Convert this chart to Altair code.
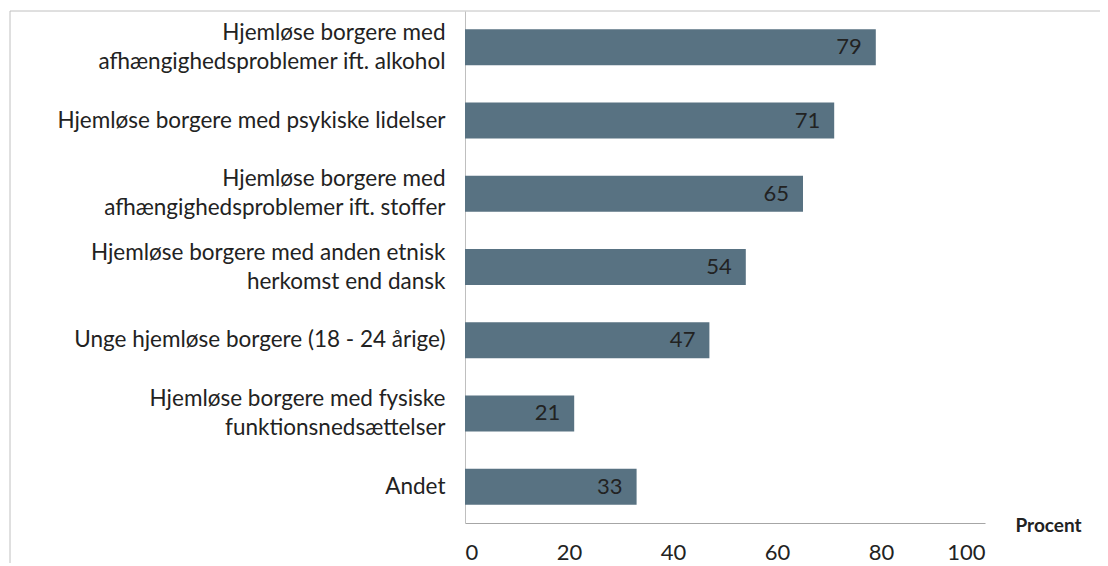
import altair as alt
import pandas as pd

categories = [
    ["Hjemløse borgere med", "afhængighedsproblemer ift. alkohol"],
    ["Hjemløse borgere med psykiske lidelser"],
    ["Hjemløse borgere med", "afhængighedsproblemer ift. stoffer"],
    ["Hjemløse borgere med anden etnisk", "herkomst end dansk"],
    ["Unge hjemløse borgere (18 - 24 årige)"],
    ["Hjemløse borgere med fysiske", "funktionsnedsættelser"],
    ["Andet"],
]
values = [79, 71, 65, 54, 47, 21, 33]
x_ticks = [0, 20, 40, 60, 80, 100]

keys = ["\n".join(c) for c in categories]
df = pd.DataFrame({"cat": keys, "value": values})

FONT = "Lato"
y_scale = alt.Scale(domain=keys, paddingInner=0.51, paddingOuter=0.25)
x_scale = alt.Scale(domain=[0, 100], nice=False)

base = alt.Chart(df)

bars = base.mark_bar(color="#587282").encode(
    x=alt.X("value:Q", scale=x_scale,
            axis=alt.Axis(values=x_ticks, grid=False, ticks=False, domainColor="#a6a6a6",
                          labelFont=FONT, labelFontSize=22, labelColor="#222222",
                          labelPadding=29, labelBaseline="middle",
                          title="Procent", titleFont=FONT,
                          titleFontSize=19, titleFontWeight="bold", titleColor="#222222",
                          titleX=550, titleY=2, titleAlign="left", titleBaseline="middle",
                          titleAnchor=None)),
    y=alt.Y("cat:N", scale=y_scale, sort=keys,
            axis=alt.Axis(title=None, ticks=False, domainColor="#bfbfbf",
                          labelFont=FONT, labelFontSize=22.5, labelColor="#222222",
                          labelPadding=20, labelExpr="split(datum.value, '\\n')",
                          labelLineHeight=29, labelLimit=500,
                          labelOffset={"condition": {"test": "indexof(datum.value, '\\n') >= 0",
                                                     "value": -14.5},
                                       "value": 0})),
)

text = base.mark_text(align="right", baseline="middle", dx=-14, font=FONT,
                      fontSize=22, color="#222222").encode(
    x=alt.X("value:Q", scale=x_scale),
    y=alt.Y("cat:N", scale=y_scale, sort=keys),
    text="value:Q",
)

frame_top = alt.Chart(pd.DataFrame({"a": [0]})).mark_rule(color="#c0c0c0", strokeWidth=1).encode(
    x=alt.value(-455), x2=alt.value(700), y=alt.value(0)
)
frame_left = alt.Chart(pd.DataFrame({"a": [0]})).mark_rule(color="#c0c0c0", strokeWidth=1).encode(
    x=alt.value(-455), y=alt.value(0), y2=alt.value(600)
)

chart = alt.layer(frame_top, frame_left, bars, text).properties(
    width=520, height=512,
    autosize=alt.AutoSizeParams(type="none"),
    padding={"left": 457, "top": 3, "right": 115, "bottom": 40},
).configure_view(stroke=None)

chart.save("out.html", embed_options={"renderer": "svg", "actions": False})
